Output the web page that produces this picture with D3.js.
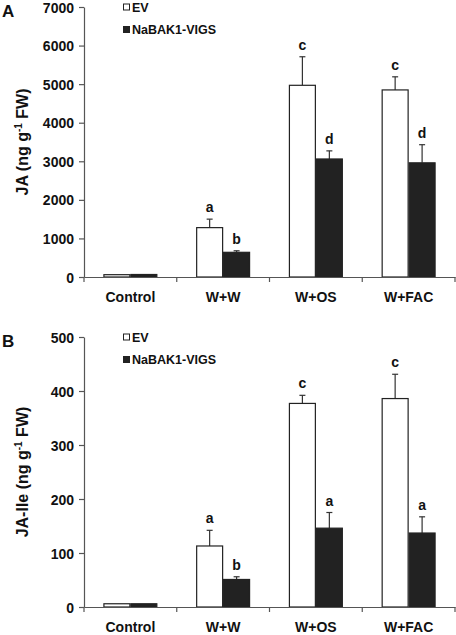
<!DOCTYPE html>
<html><head><meta charset="utf-8">
<script src="https://cdn.jsdelivr.net/npm/d3@7"></script>
<style>
body{margin:0;background:#fff;}
svg{display:block;font-family:"Liberation Sans",Arial,sans-serif;font-weight:bold;}
</style></head><body>
<svg id="c" width="456" height="635"></svg>
<script>
const categories = ["Control","W+W","W+OS","W+FAC"];
const seriesNames = ["EV","NaBAK1-VIGS"];
const seriesFill = ["#ffffff","#222222"];

// Panel A: JA
const jaEV = [60,1280,4970,4850];
const jaEVErr = [null,220,740,340];
const jaBAK = [65,640,3060,2960];
const jaBAKErr = [null,40,210,470];
const jaLettersEV = ["","a","c","c"];
const jaLettersBAK = ["","b","d","d"];
const jaTicks = [0,1000,2000,3000,4000,5000,6000,7000];

// Panel B: JA-Ile
const ileEV = [6,113,377,386];
const ileEVErr = [null,29,15,45];
const ileBAK = [6,51,146,137];
const ileBAKErr = [null,5,29,30];
const ileLettersEV = ["","a","c","c"];
const ileLettersBAK = ["","b","a","a"];
const ileTicks = [0,100,200,300,400,500];

const svg = d3.select("#c");
const axisColor = "#555";

function panel(opt){
  const g = svg.append("g");
  const x0 = d3.scaleBand().domain(categories).range([84,455]).paddingInner(0).paddingOuter(0);
  const x1 = d3.scaleBand().domain(seriesNames).range([0,x0.bandwidth()]).paddingInner(0).paddingOuter(0.72);
  const y = d3.scaleLinear().domain([0,opt.max]).range([opt.bottom,opt.top]);

  const rows = [];
  categories.forEach((c,i)=>{
    rows.push({cat:c,s:seriesNames[0],v:opt.ev[i],e:opt.evErr[i],l:opt.evL[i],fill:seriesFill[0]});
    rows.push({cat:c,s:seriesNames[1],v:opt.bak[i],e:opt.bakErr[i],l:opt.bakL[i],fill:seriesFill[1]});
  });

  // error bars
  const eb = rows.filter(d=>d.e!=null);
  g.selectAll(".err").data(eb).join("line")
    .attr("x1",d=>x0(d.cat)+x1(d.s)+x1.bandwidth()/2)
    .attr("x2",d=>x0(d.cat)+x1(d.s)+x1.bandwidth()/2)
    .attr("y1",d=>y(d.v)).attr("y2",d=>y(d.v+d.e))
    .attr("stroke","#333").attr("stroke-width",1.2);
  g.selectAll(".cap").data(eb).join("line")
    .attr("x1",d=>x0(d.cat)+x1(d.s)+x1.bandwidth()/2-3)
    .attr("x2",d=>x0(d.cat)+x1(d.s)+x1.bandwidth()/2+3)
    .attr("y1",d=>y(d.v+d.e)).attr("y2",d=>y(d.v+d.e))
    .attr("stroke","#333").attr("stroke-width",1.2);

  // bars
  g.selectAll(".bar").data(rows).join("rect")
    .attr("x",d=>x0(d.cat)+x1(d.s)+0.5)
    .attr("y",d=>y(d.v))
    .attr("width",x1.bandwidth()-1)
    .attr("height",d=>y(0)-y(d.v))
    .attr("fill",d=>d.fill).attr("stroke","#222").attr("stroke-width",1.2);

  // letters
  g.selectAll(".lt").data(rows.filter(d=>d.l)).join("text")
    .attr("x",d=>x0(d.cat)+x1(d.s)+x1.bandwidth()/2)
    .attr("y",d=>y(d.v+(d.e||0))-7)
    .attr("text-anchor","middle").attr("font-size",14).attr("fill","#111")
    .text(d=>d.l);

  // y axis
  const ya = g.append("g").attr("transform","translate(84,0)")
    .call(d3.axisLeft(y).tickValues(opt.ticks).tickSize(5).tickSizeOuter(0).tickPadding(5).tickFormat(d3.format("d")));
  ya.select(".domain").attr("stroke",axisColor).attr("stroke-width",1.2);
  ya.selectAll(".tick line").attr("stroke",axisColor).attr("stroke-width",1.2);
  ya.selectAll(".tick text").attr("font-size",14).attr("font-weight","bold").attr("fill","#111")
    .attr("font-family","'Liberation Sans',Arial,sans-serif").attr("dy","0.36em");

  // x axis
  const xa = g.append("g").attr("transform",`translate(0,${opt.bottom})`)
    .call(d3.axisBottom(x0).tickSize(0).tickSizeOuter(0).tickPadding(15));
  xa.select(".domain").attr("stroke",axisColor).attr("stroke-width",1.2);
  xa.selectAll(".tick text").attr("font-size",14).attr("font-weight","bold").attr("fill","#111")
    .attr("font-family","'Liberation Sans',Arial,sans-serif");
  // category boundary ticks
  const bounds = categories.map(c=>x0(c)).concat([x0(categories[categories.length-1])+x0.bandwidth()]);
  g.selectAll(".bt").data(bounds).join("line")
    .attr("x1",d=>d).attr("x2",d=>d).attr("y1",opt.bottom).attr("y2",opt.bottom+5)
    .attr("stroke",axisColor).attr("stroke-width",1.2);

  // y title
  const t = g.append("text").attr("transform",`translate(28,${(opt.top+opt.bottom)/2}) rotate(-90)`)
    .attr("text-anchor","middle").attr("font-size",16).attr("fill","#111");
  t.append("tspan").text(opt.title+" (ng g");
  t.append("tspan").attr("font-size",10).attr("dy",-6).text("-1");
  t.append("tspan").attr("dy",6).text(" FW)");

  // panel letter
  g.append("text").attr("x",2).attr("y",opt.top+10).attr("font-size",17).attr("fill","#111").text(opt.letter);

  // legend
  const lg = g.append("g");
  seriesNames.forEach((s,i)=>{
    const cy = opt.top + i*22.5;
    lg.append("rect").attr("x",123.5).attr("y",cy-3).attr("width",6).attr("height",6)
      .attr("fill",seriesFill[i]).attr("stroke","#222").attr("stroke-width",1);
    lg.append("text").attr("x",132).attr("y",cy+4.5).attr("font-size",12.5).attr("fill","#111").text(s);
  });
}

panel({top:7,bottom:277,max:7000,ev:jaEV,evErr:jaEVErr,bak:jaBAK,bakErr:jaBAKErr,evL:jaLettersEV,bakL:jaLettersBAK,ticks:jaTicks,title:"JA",letter:"A"});
panel({top:337,bottom:607,max:500,ev:ileEV,evErr:ileEVErr,bak:ileBAK,bakErr:ileBAKErr,evL:ileLettersEV,bakL:ileLettersBAK,ticks:ileTicks,title:"JA-Ile",letter:"B"});
</script>
</body></html>
